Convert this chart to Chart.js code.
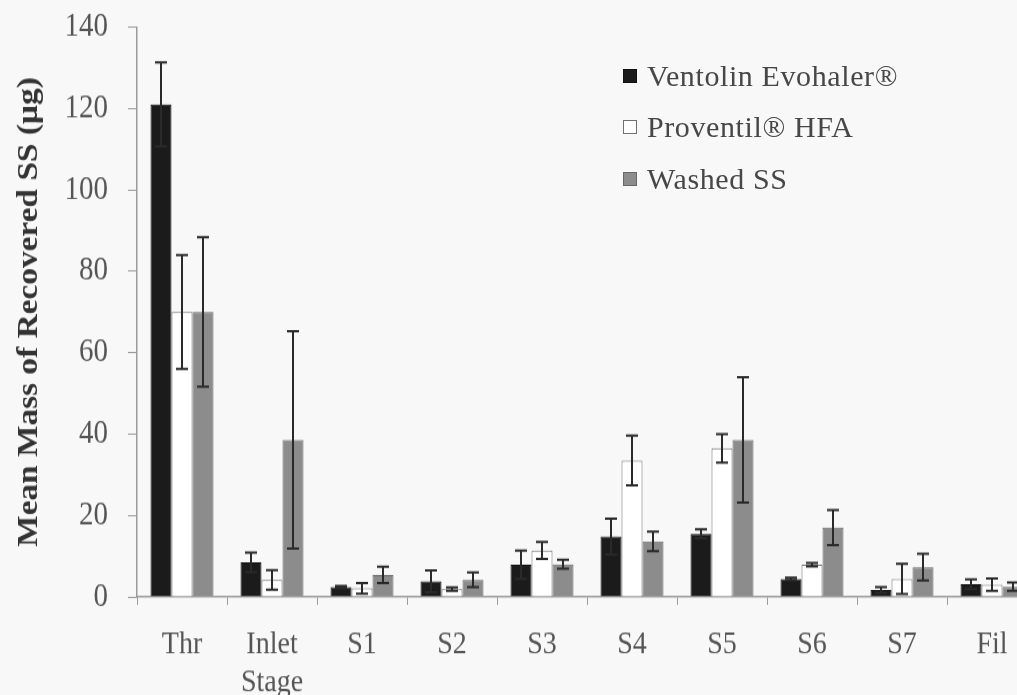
<!DOCTYPE html>
<html lang="en">
<head>
  <meta charset="UTF-8">
  <title>Mean Mass of Recovered SS</title>
  <script src="https://cdn.jsdelivr.net/npm/chart.js"></script>
  <style>
    html, body {
      margin: 0;
      background-color: #f8f8f8;
      overflow: hidden;
    }
    /* the original figure is a bit stretched vertically, so the canvas is too */
    .chart-box {
      position: absolute;
      left: 0;
      top: 0;
      width: 1040px;
      height: 604px;
      transform: scale(1, 1.15);
      transform-origin: 0 0;
    }
    .legend {
      position: absolute;
      left: 623px;
      top: 50px;
      font-family: 'Liberation Serif', serif;
      font-size: 30px;
      letter-spacing: 0.6px;
      line-height: 1;
      color: #474747;
    }
    .legend div {
      height: 51.5px;
      display: flex;
      align-items: center;
      white-space: nowrap;
    }
    .legend span.box {
      display: inline-block;
      width: 14px;
      height: 14px;
      margin-right: 10px;
      box-sizing: border-box;
    }
  </style>
</head>
<body>
  <div class="chart-box">
    <canvas id="stageChart" width="1040" height="604"></canvas>
  </div>
  <div class="legend" id="legend"></div>

  <script>
    // Data
    const stages = ['Thr', ['Inlet', 'Stage'], 'S1', 'S2', 'S3', 'S4', 'S5', 'S6', 'S7', 'Fil'];
    const seriesNames = ['Ventolin Evohaler®', 'Proventil® HFA', 'Washed SS'];

    const ventolin    = [121.0, 8.5, 2.4, 3.8, 7.9, 14.8, 15.5, 4.4, 1.7, 3.1];
    const ventolinErr = [10.3, 2.4, 0.3, 2.7, 3.5, 4.4, 1.1, 0.3, 0.7, 1.2];
    const proventil    = [70.0, 4.2, 2.1, 1.9, 11.4, 33.5, 36.5, 7.9, 4.4, 3.0];
    const proventilErr = [14.0, 2.4, 1.3, 0.4, 2.1, 6.1, 3.5, 0.4, 3.7, 1.5];
    const washed    = [70.0, 38.6, 5.4, 4.2, 8.0, 13.6, 38.6, 17.0, 7.3, 2.5];
    const washedErr = [18.4, 26.7, 2.0, 1.8, 1.1, 2.4, 15.4, 4.3, 3.3, 1.0];

    const yTicks = [0, 20, 40, 60, 80, 100, 120, 140];

    const fills   = ['#1b1b1b', '#ffffff', '#8c8c8c'];
    const borders = ['#111111', '#707070', '#666666'];

    // Error bars drawn from the y scale
    const errorBars = {
      id: 'errorBars',
      afterDatasetsDraw(chart) {
        const ctx = chart.ctx;
        const y = chart.scales.y;
        ctx.save();
        ctx.strokeStyle = '#2a2a2a';
        ctx.lineWidth = 2;
        chart.data.datasets.forEach((ds, i) => {
          const meta = chart.getDatasetMeta(i);
          meta.data.forEach((bar, j) => {
            const v = ds.data[j], e = ds.errors[j];
            const top = y.getPixelForValue(v + e);
            const bot = y.getPixelForValue(Math.max(v - e, 0));
            const x = bar.x, cap = 6;
            ctx.beginPath();
            ctx.moveTo(x, top); ctx.lineTo(x, bot);
            ctx.moveTo(x - cap, top); ctx.lineTo(x + cap, top);
            ctx.moveTo(x - cap, bot); ctx.lineTo(x + cap, bot);
            ctx.stroke();
          });
        });
        ctx.restore();
      }
    };

    const ctx = document.getElementById('stageChart').getContext('2d');
    new Chart(ctx, {
      type: 'bar',
      data: {
        labels: stages,
        datasets: [
          { label: seriesNames[0], data: ventolin, errors: ventolinErr },
          { label: seriesNames[1], data: proventil, errors: proventilErr },
          { label: seriesNames[2], data: washed, errors: washedErr }
        ].map((d, i) => Object.assign(d, {
          backgroundColor: fills[i],
          borderColor: borders[i],
          borderWidth: 1,
          categoryPercentage: 0.7,
          barPercentage: 1.0
        }))
      },
      options: {
        responsive: false,
        animation: false,
        layout: { padding: { top: 23.5, right: 3, left: 0, bottom: 0 } },
        plugins: {
          legend: { display: false },
          tooltip: { enabled: false }
        },
        scales: {
          x: {
            grid: {
              display: true,
              drawOnChartArea: false,
              drawTicks: true,
              tickLength: 7,
              color: '#9a9a9a'
            },
            border: { color: '#9a9a9a', width: 1.5 },
            ticks: {
              color: '#555',
              padding: 19,
              maxRotation: 0,
              autoSkip: false,
              font: { family: 'Liberation Serif', size: 28, lineHeight: 1.15 }
            },
            afterFit(scale) {
              scale.height = 85;
              scale.paddingLeft = 0;
              scale.paddingRight = 0;
            }
          },
          y: {
            min: 0,
            max: 140,
            afterBuildTicks(scale) { scale.ticks = yTicks.map(v => ({ value: v })); },
            grid: {
              display: true,
              drawOnChartArea: false,
              drawTicks: true,
              tickLength: 9,
              color: '#9a9a9a'
            },
            border: { color: '#9a9a9a', width: 1.5 },
            ticks: {
              color: '#555',
              padding: 20,
              font: { family: 'Liberation Serif', size: 29 }
            },
            title: {
              display: true,
              text: 'Mean Mass of Recovered SS (µg)',
              color: '#333',
              padding: { top: 12, bottom: 0 },
              font: { family: 'Liberation Serif', size: 29, weight: 'bold' }
            },
            afterFit(scale) {
              scale.width = 137;
              scale.paddingTop = 0;
              scale.paddingBottom = 0;
            }
          }
        }
      },
      plugins: [errorBars]
    });

    // HTML legend, same order as the datasets
    const legend = document.getElementById('legend');
    seriesNames.forEach((name, i) => {
      const row = document.createElement('div');
      row.innerHTML = '<span class="box" style="background:' + fills[i] +
        ';border:1px solid ' + borders[i] + '"></span>' + name;
      legend.appendChild(row);
    });
  </script>
</body>
</html>
